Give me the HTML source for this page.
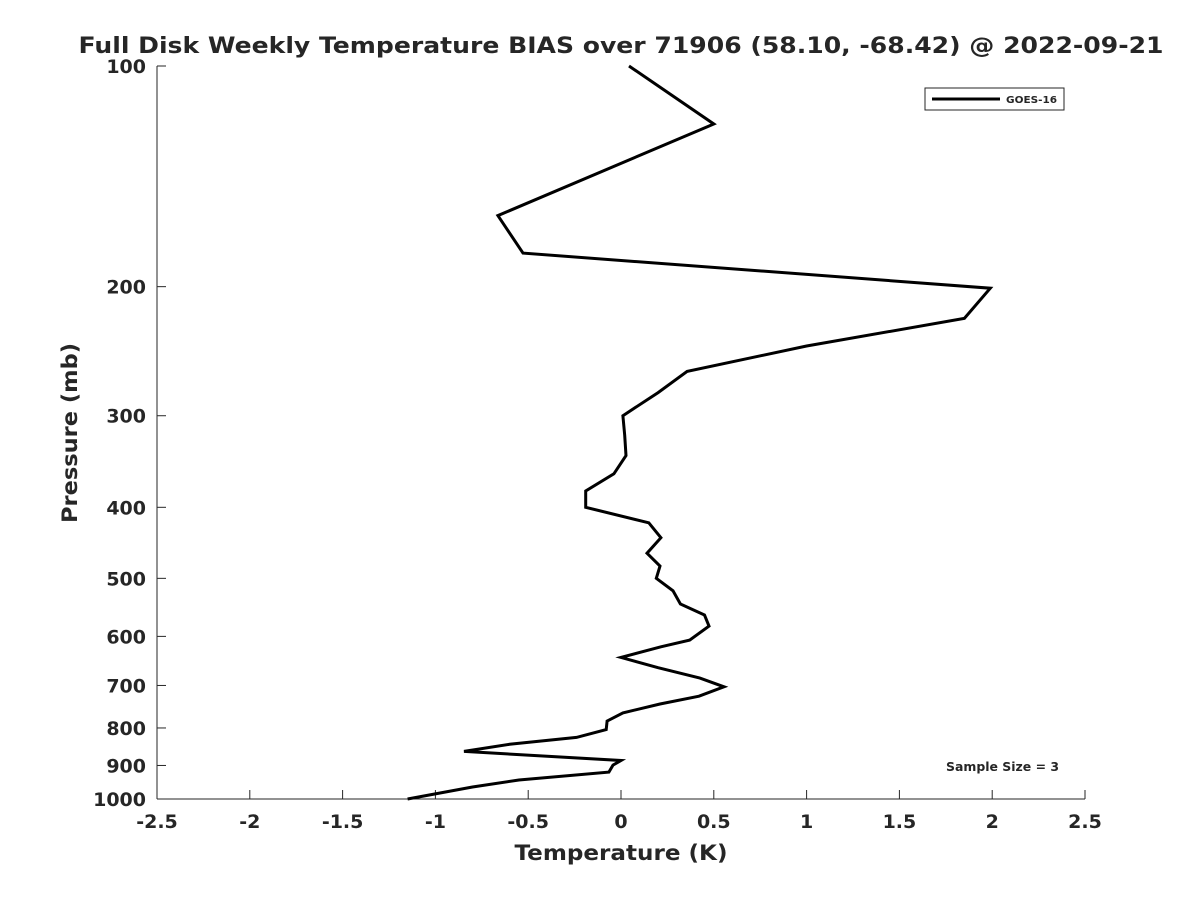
<!DOCTYPE html>
<html><head><meta charset="utf-8"><style>
body{margin:0;background:#fff;}
svg text{font-family:"DejaVu Sans","Liberation Sans",sans-serif;font-weight:bold;fill:#262626;}
</style></head><body>
<svg id="chart" width="1200" height="900" xmlns="http://www.w3.org/2000/svg">
<rect width="1200" height="900" fill="#fff"/>
<text x="621" y="53" font-size="22" text-anchor="middle" textLength="1085" lengthAdjust="spacingAndGlyphs" fill="#000">Full Disk Weekly Temperature BIAS over 71906 (58.10, -68.42) @ 2022-09-21</text>
<g id="axes"></g>
<g id="series"></g>
<g>
<rect x="925" y="88" width="139" height="22" fill="#fff" stroke="#262626" stroke-width="1"/>
<line x1="932" y1="99" x2="1000" y2="99" stroke="#000" stroke-width="3"/>
<text x="1006" y="103" font-size="10" textLength="51" lengthAdjust="spacingAndGlyphs" fill="#000">GOES-16</text>
</g>
<text x="946" y="771" font-size="12" textLength="113" lengthAdjust="spacingAndGlyphs" fill="#000">Sample Size = 3</text>
<text x="621" y="860" font-size="21" text-anchor="middle" textLength="213" lengthAdjust="spacingAndGlyphs">Temperature (K)</text>
<text transform="translate(77,433) rotate(-90)" font-size="21" text-anchor="middle" textLength="180" lengthAdjust="spacingAndGlyphs">Pressure (mb)</text>
</svg>
<script>
const xTicks=[-2.5,-2,-1.5,-1,-0.5,0,0.5,1,1.5,2,2.5];
const xTickLabels=["-2.5","-2","-1.5","-1","-0.5","0","0.5","1","1.5","2","2.5"];
const yTicks=[100,200,300,400,500,600,700,800,900,1000];
const yTickLabels=["100","200","300","400","500","600","700","800","900","1000"];
const pressure=[100,120,160,180,201,221,241,261,279,300,319,340,360,380,400,420,440,462,481,500,520,542,561,581,607,620,641,662,684,703,724,742,763,783,804,824,842,861,886,899,919,942,963,1000];
const bias=[0.043,0.50,-0.663,-0.528,1.99,1.85,1.00,0.356,0.20,0.01,0.02,0.027,-0.038,-0.19,-0.19,0.15,0.215,0.14,0.21,0.19,0.28,0.32,0.45,0.474,0.37,0.215,0.0,0.20,0.425,0.555,0.42,0.21,0.01,-0.075,-0.08,-0.24,-0.60,-0.846,0.0,-0.043,-0.065,-0.55,-0.80,-1.15];
const L=157,R=1085,T=66,B=799;
const xs=v=>L+(v+2.5)/5*(R-L);
const ys=p=>T+Math.log10(p/100)*(B-T);
const NS="http://www.w3.org/2000/svg";
const axes=document.getElementById('axes');
function mk(tag,attrs,parent){const e=document.createElementNS(NS,tag);for(const k in attrs)e.setAttribute(k,attrs[k]);parent.appendChild(e);return e;}
let a=mk('line',{x1:L,y1:B,x2:R,y2:B,stroke:'#262626','stroke-width':1},axes);


a=mk('line',{x1:L,y1:T,x2:L,y2:B,stroke:'#262626','stroke-width':1},axes);


xTicks.forEach((v,i)=>{
  const x=xs(v);
  mk('line',{x1:x,y1:B,x2:x,y2:B-9,stroke:'#262626'},axes);
  const t=mk('text',{x:x,y:B+29,'font-size':19,'text-anchor':'middle'},axes);
  t.textContent=xTickLabels[i];
  
  
});
yTicks.forEach((p,i)=>{
  const y=ys(p);
  mk('line',{x1:L,y1:y,x2:L+9,y2:y,stroke:'#262626'},axes);
  const t=mk('text',{x:L-11,y:y+7,'font-size':19,'text-anchor':'end'},axes);
  t.textContent=yTickLabels[i];
  
  
});
const pts=bias.map((b,i)=>xs(b).toFixed(1)+','+ys(pressure[i]).toFixed(1)).join(' ');
const pl=mk('polyline',{points:pts,fill:'none',stroke:'#000','stroke-width':3,'stroke-linejoin':'miter'},document.getElementById('series'));


</script>
</body></html>
